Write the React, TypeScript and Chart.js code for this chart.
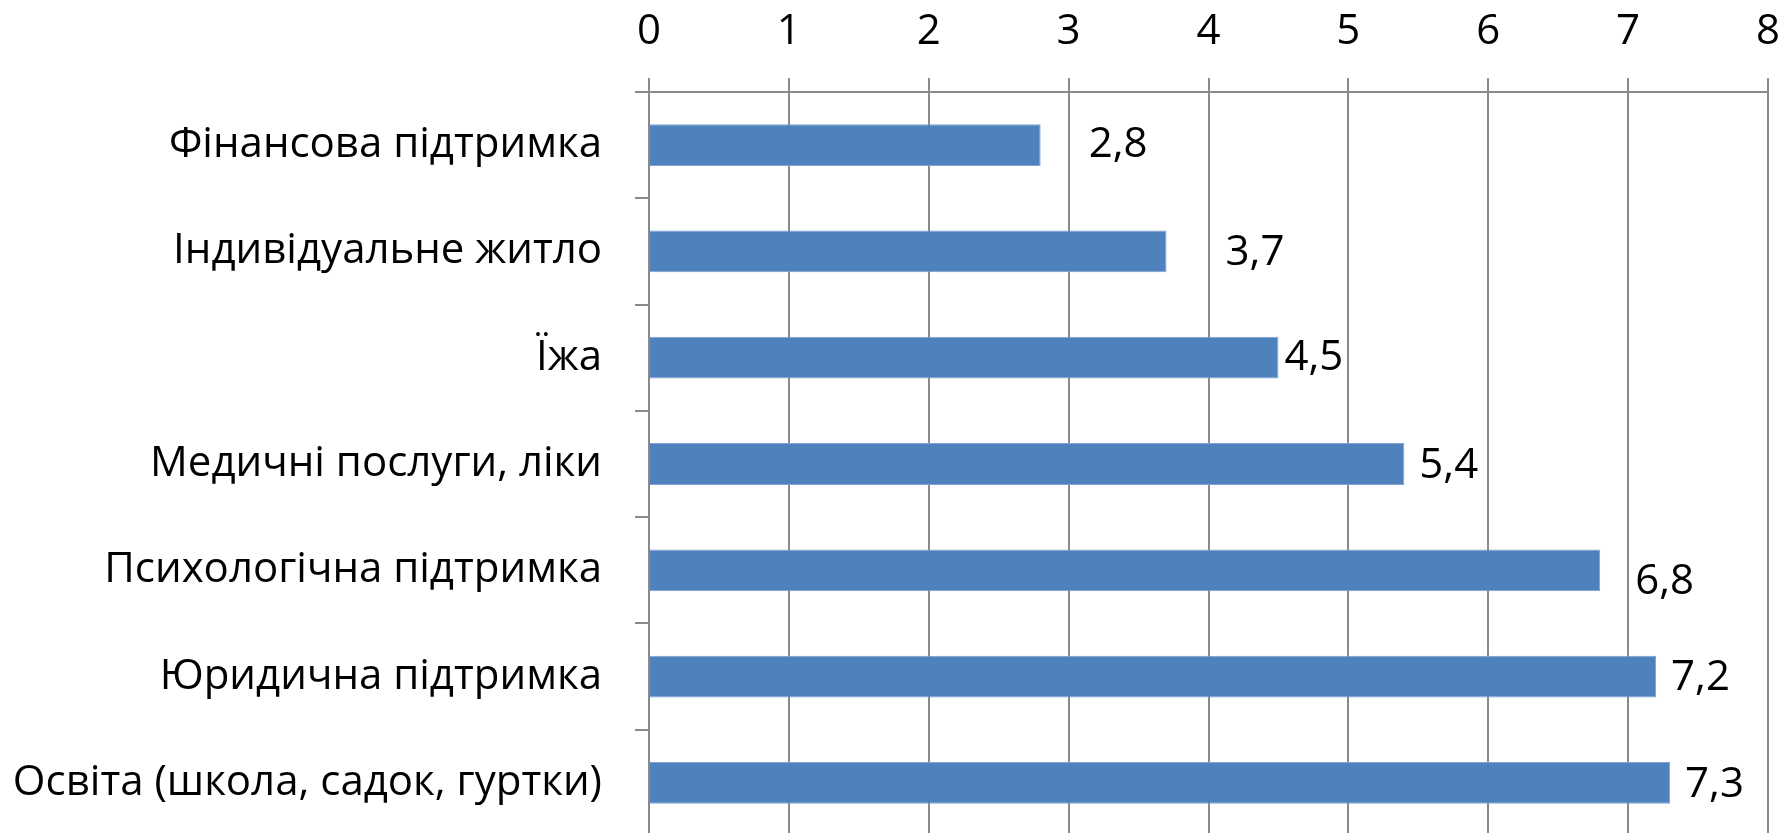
import React, { useEffect, useRef } from "react";
import { Chart, registerables } from "chart.js";

Chart.register(...registerables);

const categories = [
  "Фінансова підтримка",
  "Індивідуальне житло",
  "Їжа",
  "Медичні послуги, ліки",
  "Психологічна підтримка",
  "Юридична підтримка",
  "Освіта (школа, садок, гуртки)",
];
const values = [2.8, 3.7, 4.5, 5.4, 6.8, 7.2, 7.3];
const xTicks = [0, 1, 2, 3, 4, 5, 6, 7, 8];

// manual label nudges (style only): gap after bar end, vertical shift
const labelGap = [48, 59, 6, 15, 35, 15, 15];
const labelShift = [0, 2, 0, 2, 12, 1, 2];

const FONT = "'Open Sans'";
const FONT_SIZE = 42;
const GRID = "#8a8a8a";
const BAR = "#4F81BD";

const valueLabels = {
  id: "valueLabels",
  afterDatasetsDraw(chart: any) {
    const ctx = chart.ctx;
    const meta = chart.getDatasetMeta(0);
    ctx.save();
    ctx.font = `${FONT_SIZE}px ${FONT}`;
    ctx.fillStyle = "#000";
    ctx.textAlign = "left";
    ctx.textBaseline = "middle";
    meta.data.forEach((bar: any, i: number) => {
      const txt = String(values[i]).replace(".", ",");
      ctx.fillText(txt, bar.x + labelGap[i], bar.y + labelShift[i]);
    });
    ctx.restore();
  },
};

export default function App() {
  const ref = useRef<HTMLCanvasElement>(null);
  useEffect(() => {
    if (!ref.current) return;
    const chart = new Chart(ref.current, {
      type: "bar",
      data: {
        labels: categories,
        datasets: [
          {
            data: values,
            backgroundColor: BAR,
            borderColor: "#7EA3D2",
            borderWidth: 1,
            barPercentage: 0.393,
            categoryPercentage: 1,
          },
        ],
      },
      options: {
        indexAxis: "y",
        animation: false,
        responsive: false,
        maintainAspectRatio: false,
        layout: { padding: { left: 0, right: 17, top: 0, bottom: 0 } },
        plugins: { legend: { display: false }, tooltip: { enabled: false } },
        scales: {
          x: {
            position: "top",
            min: 0,
            max: 8,
            afterBuildTicks: (scale: any) => {
              scale.ticks = xTicks.map((v) => ({ value: v }));
            },
            afterFit: (scale: any) => {
              scale.height = 92;
              scale.paddingLeft = 0;
              scale.paddingRight = 0;
              scale.paddingTop = 0;
              scale.paddingBottom = 0;
            },
            ticks: {
              color: "#000",
              font: { family: FONT, size: FONT_SIZE },
              padding: 21,
              maxRotation: 0,
            },
            grid: { color: GRID, lineWidth: 2, tickLength: 14 },
            border: { display: true, color: GRID, width: 2 },
          },
          y: {
            afterFit: (scale: any) => {
              scale.width = 649;
              scale.paddingLeft = 0;
              scale.paddingRight = 0;
              scale.paddingTop = 0;
              scale.paddingBottom = 0;
            },
            ticks: {
              color: "#000",
              font: { family: FONT, size: FONT_SIZE },
              padding: 33,
            },
            grid: {
              offset: true,
              drawOnChartArea: false,
              color: GRID,
              lineWidth: 2,
              tickLength: 14,
            },
            border: { display: true, color: GRID, width: 2 },
          },
        },
      },
      plugins: [valueLabels],
    });
    return () => chart.destroy();
  }, []);
  return (
    <div
      style={{
        position: "fixed",
        left: 0,
        top: 0,
        width: 1785,
        height: 833,
        overflow: "hidden",
        background: "#fff",
      }}
    >
      <canvas ref={ref} width={1785} height={836} style={{ display: "block" }} />
    </div>
  );
}
